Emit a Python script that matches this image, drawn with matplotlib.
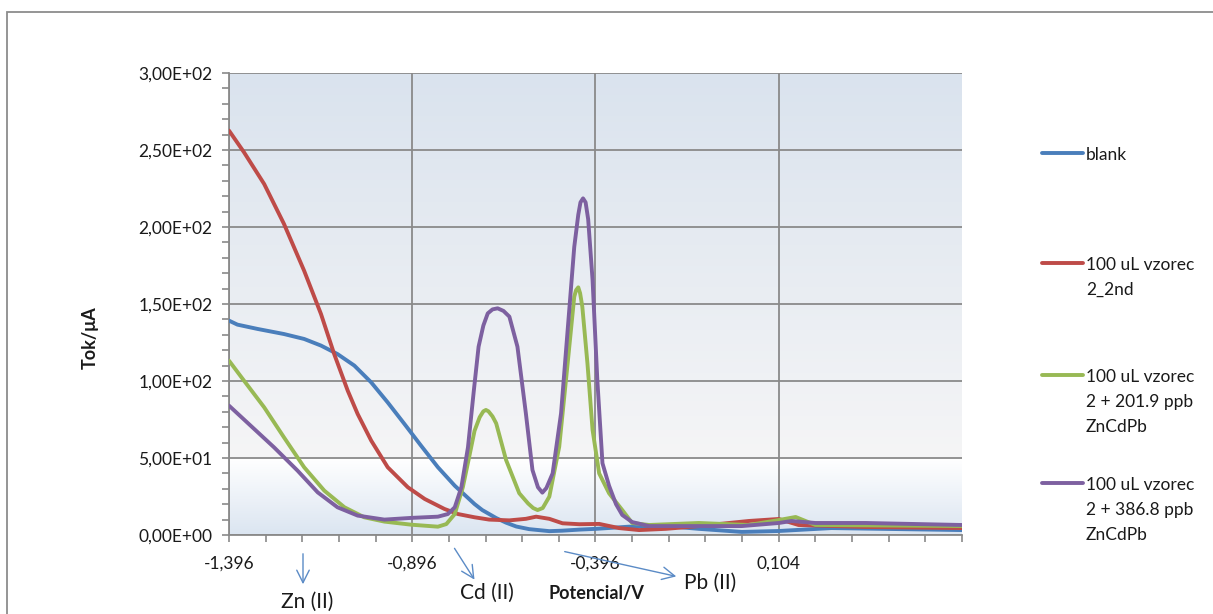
import numpy as np
import matplotlib
matplotlib.use("Agg")
import matplotlib.pyplot as plt
from matplotlib.ticker import MultipleLocator, FixedLocator, FuncFormatter
from matplotlib.lines import Line2D
from matplotlib.patches import Rectangle, FancyArrowPatch

plt.rcParams['font.family'] = ['Lato', 'DejaVu Sans']

# ---- data (potential V, current uA) ----
blank_v = [-1.396, -1.373, -1.318, -1.246, -1.191, -1.145, -1.100, -1.054, -1.008, -0.963,
           -0.917, -0.872, -0.826, -0.780, -0.726, -0.705, -0.667, -0.640, -0.612, -0.577,
           -0.522, -0.487, -0.440, -0.395, -0.305, -0.204, -0.114, 0.003, 0.104, 0.248, 0.604]
blank_i = [139.2, 136.6, 133.8, 130.5, 127.3, 123.0, 117.5, 110.0, 99.1, 86.1,
           72.0, 58.0, 44.0, 32.0, 20.1, 16.2, 11.0, 8.0, 5.5, 3.8,
           2.5, 2.8, 3.5, 4.0, 5.4, 5.8, 4.0, 2.0, 2.6, 4.5, 3.2]

red_v = [-1.396, -1.355, -1.300, -1.246, -1.191, -1.145, -1.109, -1.072, -1.045, -1.008,
         -0.963, -0.908, -0.862, -0.808, -0.771, -0.726, -0.686, -0.631, -0.586, -0.558,
         -0.522, -0.486, -0.440, -0.386, -0.332, -0.277, -0.204, -0.114, 0.022, 0.104,
         0.158, 0.341, 0.604]
red_i = [262.6, 248.5, 227.9, 202.0, 171.6, 143.5, 117.5, 93.7, 78.6, 61.3,
         44.0, 31.0, 23.4, 16.9, 13.6, 11.5, 10.0, 9.5, 10.5, 11.9,
         10.5, 7.6, 7.0, 7.2, 4.5, 3.2, 4.0, 5.8, 9.1, 10.4,
         6.5, 5.2, 4.5]

green_v = [-1.396, -1.355, -1.300, -1.246, -1.191, -1.136, -1.081, -1.027, -0.972, -0.899,
           -0.826, -0.803, -0.780, -0.758, -0.739, -0.726, -0.712, -0.702, -0.695, -0.688,
           -0.677, -0.667, -0.640, -0.604, -0.580, -0.566, -0.554, -0.540, -0.522, -0.495,
           -0.472, -0.454, -0.449, -0.443, -0.438, -0.432, -0.418, -0.404, -0.386, -0.359,
           -0.323, -0.296, -0.250, -0.114, 0.022, 0.104, 0.150, 0.204, 0.604]
green_i = [113.2, 100.2, 82.9, 63.4, 44.0, 28.8, 18.0, 11.5, 8.7, 6.7,
           5.4, 7.1, 13.6, 31.0, 52.6, 67.7, 76.5, 80.3, 81.2, 80.3,
           77.0, 72.5, 48.7, 27.1, 20.5, 17.5, 16.2, 17.5, 24.9, 57.3,
           111.5, 154.7, 159.0, 160.8, 157.0, 148.3, 111.5, 68.2, 40.0, 27.1,
           16.2, 7.8, 6.5, 7.8, 6.5, 9.7, 11.7, 6.5, 5.8]

purple_v = [-1.396, -1.337, -1.273, -1.209, -1.154, -1.100, -1.045, -0.972, -0.899, -0.826,
            -0.799, -0.780, -0.762, -0.744, -0.728, -0.715, -0.702, -0.690, -0.677, -0.663,
            -0.647, -0.631, -0.609, -0.586, -0.568, -0.553, -0.541, -0.530, -0.513, -0.490,
            -0.472, -0.454, -0.443, -0.437, -0.430, -0.423, -0.416, -0.404, -0.391, -0.377,
            -0.359, -0.340, -0.323, -0.296, -0.250, -0.114, 0.003, 0.104, 0.139, 0.204,
            0.341, 0.604]
purple_i = [84.0, 71.0, 56.9, 41.8, 27.7, 18.0, 12.6, 10.0, 11.1, 11.9,
            13.6, 18.0, 31.0, 56.9, 93.7, 122.3, 136.0, 143.9, 146.5, 147.2,
            145.5, 141.8, 122.3, 79.0, 42.2, 31.0, 27.5, 30.5, 40.0, 79.0,
            133.0, 187.0, 208.0, 216.0, 218.6, 216.0, 205.0, 165.6, 100.6, 46.6,
            32.0, 20.0, 13.0, 8.4, 5.8, 5.8, 5.8, 7.8, 9.1, 7.8,
            7.8, 6.5]

series_labels = [["blank"],
                 ["100 uL vzorec", "2_2nd"],
                 ["100 uL vzorec", "2 + 201.9 ppb", "ZnCdPb"],
                 ["100 uL vzorec", "2 + 386.8 ppb", "ZnCdPb"]]
series_colors = ["#4A7EBB", "#BE4B48", "#98B954", "#7D60A0"]

x_major = [-1.396, -0.896, -0.396, 0.104]
x_min, x_max = -1.396, 0.604
y_min, y_max = 0, 300

W, H = 1213, 614
fig = plt.figure(figsize=(W / 100, H / 100), dpi=100)
fig.patch.set_facecolor("white")

# figure frame
fig.add_artist(Rectangle((7 / W, -0.05), 1.1, 1 - 12 / H + 0.05, transform=fig.transFigure,
                         fill=False, edgecolor="#8C8C8C", lw=1.3))

L, R, T, B = 229, 962, 73, 535
ax = fig.add_axes([L / W, 1 - B / H, (R - L) / W, (B - T) / H])

# gradient background
N = 400
f = np.linspace(0, 1, N)
def hx(c):
    return np.array([int(c[i:i + 2], 16) for i in (1, 3, 5)]) / 255.0
img = np.zeros((N, 1, 3))
step = 0.165
bot_c, low_top = hx("#DBE5F1"), hx("#FFFFFF")
hi_bot, top_c = hx("#F5F5F6"), hx("#DAE3EE")
for k, v in enumerate(f):
    if v < step:
        t = v / step
        img[k, 0] = bot_c * (1 - t) + low_top * t
    else:
        t = (v - step) / (1 - step)
        img[k, 0] = hi_bot * (1 - t) + top_c * t
ax.imshow(img, extent=[0, 1, 0, 1], transform=ax.transAxes, origin="lower",
          aspect="auto", zorder=0, interpolation="bilinear")
ax.set_facecolor("none")

for v, i, c in zip([blank_v, red_v, green_v, purple_v], [blank_i, red_i, green_i, purple_i],
                   series_colors):
    ax.plot(v, i, color=c, lw=2.8, solid_joinstyle="round", solid_capstyle="round", zorder=3)

ax.set_xlim(x_min, x_max)
ax.set_ylim(y_min, y_max)

ax.xaxis.set_major_locator(FixedLocator(x_major))
ax.xaxis.set_minor_locator(FixedLocator([round(x_min + 0.1 * k, 3) for k in range(21)]))
ax.xaxis.set_major_formatter(FuncFormatter(lambda v, p: f"{v:.3f}".replace(".", ",")))
ax.yaxis.set_major_locator(MultipleLocator(50))
ax.yaxis.set_minor_locator(MultipleLocator(10))
ax.yaxis.set_major_formatter(FuncFormatter(lambda v, p: f"{v:.2E}".replace(".", ",")))

ax.set_axisbelow(True)
ax.grid(True, which="major", color="#8A8A8A", lw=1.3, zorder=1)

for s in ["top", "right"]:
    ax.spines[s].set_visible(False)
for s in ["left", "bottom"]:
    ax.spines[s].set_color("#8A8A8A")
    ax.spines[s].set_linewidth(1.3)

TXT = "#1A1A1A"
ax.tick_params(which="both", direction="out", color="#8A8A8A", width=1.2, length=5,
               labelsize=12.5, labelcolor=TXT)
ax.tick_params(axis="x", pad=10)
ax.tick_params(axis="y", pad=7)

# axis titles
fig.text(90 / W, 1 - 338 / H, "Tok/μA", rotation=90, ha="center", va="center",
         fontsize=13, fontweight="bold", color=TXT)
fig.text(596 / W, 1 - 594 / H, "Potencial/V", ha="center", va="center",
         fontsize=13, fontweight="bold", color=TXT)

# annotations
acol = "#5B8BC6"
def arrow(x0, y0, x1, y1):
    fig.add_artist(FancyArrowPatch(
        (x0 / W, 1 - y0 / H), (x1 / W, 1 - y1 / H), transform=fig.transFigure,
        arrowstyle="->,head_length=6,head_width=3", color=acol, lw=1.0, mutation_scale=1.5))
arrow(303, 551, 303, 587)
arrow(453, 546, 476, 582)
arrow(562, 551, 679, 577)
fig.text(307 / W, 1 - 602 / H, "Zn (II)", ha="center", va="center", fontsize=15, color=TXT)
fig.text(487 / W, 1 - 593 / H, "Cd (II)", ha="center", va="center", fontsize=15, color=TXT)
fig.text(710 / W, 1 - 583 / H, "Pb (II)", ha="center", va="center", fontsize=15, color=TXT)

# legend (manual)
leg_y = [153, 263, 375, 483]
for y, lines, c in zip(leg_y, series_labels, series_colors):
    fig.add_artist(Line2D([1042 / W, 1083 / W], [1 - y / H, 1 - y / H], transform=fig.transFigure,
                          color=c, lw=2.8, solid_capstyle="round"))
    for k, line in enumerate(lines):
        fig.text(1086 / W, 1 - (y + 25 * k) / H, line, ha="left", va="center_baseline",
                 fontsize=12.5, color=TXT)

fig.savefig("out.png", dpi=100)
